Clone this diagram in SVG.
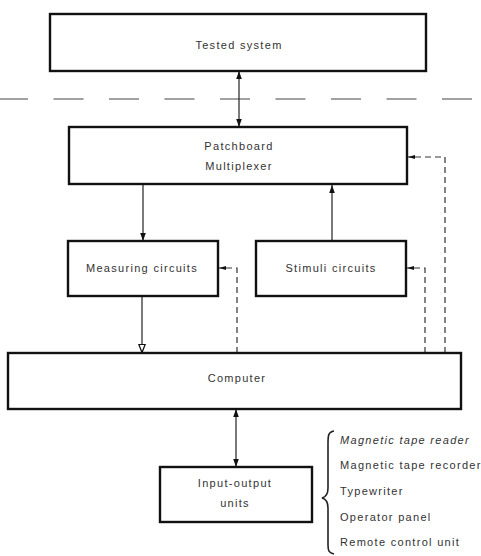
<svg xmlns="http://www.w3.org/2000/svg" width="481" height="556" viewBox="0 0 481 556">
  <style>
    .box { fill: #ffffff; stroke: #111111; stroke-width: 2.4; }
    .lbl { font-family: "Liberation Sans", Arial, sans-serif; font-size: 11px; letter-spacing: 1.3px; fill: #333333; text-anchor: middle; }
    .item { font-family: "Liberation Sans", Arial, sans-serif; font-size: 11px; letter-spacing: 1.3px; fill: #333333; }
    .wire { fill: none; stroke: #222222; stroke-width: 1.2; }
    .dash { fill: none; stroke: #333333; stroke-width: 1.2; stroke-dasharray: 6 4; }
  </style>
  <defs>
    <marker id="head" viewBox="0 0 10 10" refX="10" refY="5" markerWidth="8" markerHeight="8" markerUnits="userSpaceOnUse" orient="auto-start-reverse">
      <path d="M0,1.5 L10,5 L0,8.5 Z" fill="#111111"/>
    </marker>
    <marker id="open" viewBox="0 0 10 10" refX="10" refY="5" markerWidth="9" markerHeight="9" markerUnits="userSpaceOnUse" orient="auto">
      <path d="M0.5,1.5 L9.5,5 L0.5,8.5 Z" fill="#ffffff" stroke="#111111" stroke-width="1.4"/>
    </marker>
    <marker id="tap" viewBox="0 0 10 10" refX="10" refY="5" markerWidth="7" markerHeight="7" markerUnits="userSpaceOnUse" orient="auto">
      <path d="M0,2 L10,5 L0,8 Z" fill="#111111"/>
    </marker>
  </defs>

  <!-- boundary between tested system and test equipment -->
  <line x1="0" y1="99" x2="481" y2="99" stroke="#444444" stroke-width="1.2" stroke-dasharray="30 25.5" stroke-dashoffset="2"/>

  <g id="connectors">
    <!-- signal paths -->
    <line class="wire" x1="239" y1="71" x2="239" y2="127" marker-start="url(#head)" marker-end="url(#head)"/>
    <line class="wire" x1="143" y1="185" x2="143" y2="241" marker-end="url(#head)"/>
    <line class="wire" x1="332" y1="241" x2="332" y2="185" marker-end="url(#head)"/>
    <line class="wire" x1="142" y1="296" x2="142" y2="353" marker-end="url(#open)"/>
    <line class="wire" x1="236" y1="409" x2="236" y2="467" marker-start="url(#head)" marker-end="url(#head)"/>
    <!-- control paths from the computer -->
    <polyline class="dash" points="237,353 237,268 219,268" marker-end="url(#tap)"/>
    <polyline class="dash" points="425,353 425,268 407,268" marker-end="url(#tap)"/>
    <polyline class="dash" points="445,353 445,157 408,157" marker-end="url(#tap)"/>
  </g>

  <g id="tested-system">
    <rect class="box" x="50" y="14" width="376" height="57"/>
    <text class="lbl" x="239" y="49">Tested system</text>
  </g>

  <g id="patchboard">
    <rect class="box" x="69" y="127" width="338" height="57"/>
    <text class="lbl" x="239" y="150">Patchboard</text>
    <text class="lbl" x="239" y="170">Multiplexer</text>
  </g>

  <g id="measuring">
    <rect class="box" x="68" y="241" width="150" height="55"/>
    <text class="lbl" x="142" y="272">Measuring circuits</text>
  </g>

  <g id="stimuli">
    <rect class="box" x="256" y="241" width="150" height="55"/>
    <text class="lbl" x="331" y="272">Stimuli circuits</text>
  </g>

  <g id="computer">
    <rect class="box" x="8" y="353" width="453" height="56"/>
    <text class="lbl" x="237" y="382">Computer</text>
  </g>

  <g id="io-units">
    <rect class="box" x="160" y="467" width="152" height="55"/>
    <text class="lbl" x="235" y="487">Input-output</text>
    <text class="lbl" x="235" y="507">units</text>
  </g>

  <g id="peripherals">
    <path d="M334,431 C328,432 328,436 328,444 L328,488 C328,494 326,497 322,498 C326,499 328,502 328,508 L328,545 C328,551 329,553 334,554" fill="none" stroke="#222222" stroke-width="1.6"/>
    <text class="item" x="340" y="444" font-style="italic">Magnetic tape reader</text>
    <text class="item" x="340" y="469">Magnetic tape recorder</text>
    <text class="item" x="340" y="495">Typewriter</text>
    <text class="item" x="340" y="521">Operator panel</text>
    <text class="item" x="340" y="546">Remote control unit</text>
  </g>
</svg>
